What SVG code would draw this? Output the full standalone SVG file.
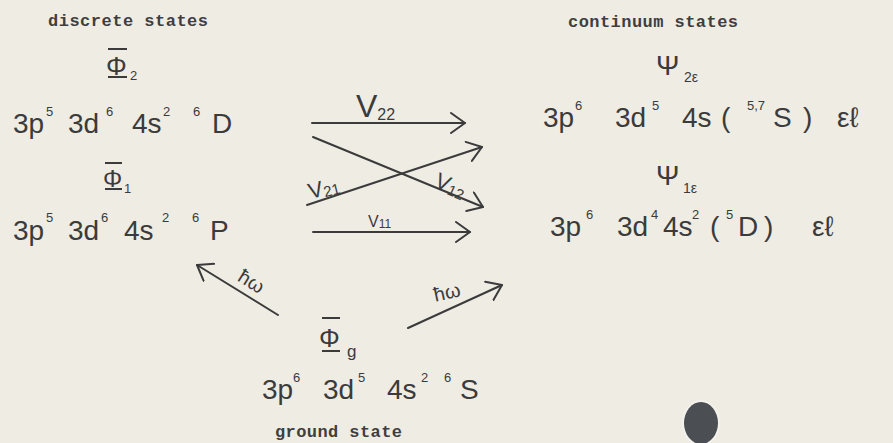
<svg xmlns="http://www.w3.org/2000/svg" width="893" height="443" viewBox="0 0 893 443">
<style>
.hw{font-family:"Liberation Sans","DejaVu Sans",sans-serif;fill:#3b3b3b}
.big{font-size:28px}
.sup{font-size:13px}
.tt{font-family:"Liberation Mono","DejaVu Sans Mono",monospace;font-weight:bold;font-size:17px;fill:#3f3f3f}
.ln{stroke:#3b3b3b;stroke-width:2;fill:none;stroke-linecap:round}
.bar{stroke:#3b3b3b;stroke-width:2}
</style>
<defs>
<marker id="ah" viewBox="0 0 16 22" refX="15" refY="11" markerWidth="16" markerHeight="22" markerUnits="userSpaceOnUse" orient="auto">
<path d="M1,1 L15,11 L1,21" fill="none" stroke="#3b3b3b" stroke-width="2" stroke-linecap="round" stroke-linejoin="round"/>
</marker>
</defs>
<rect x="0" y="0" width="893" height="443" fill="#efece4"/>

<text class="tt" x="48" y="26" textLength="160">discrete states</text>
<text class="tt" x="568" y="27" textLength="170">continuum states</text>
<text class="tt" x="275" y="437" textLength="127">ground state</text>

<g id="phi2">
<line class="bar" x1="108" y1="49" x2="127" y2="49"/>
<text class="hw" x="106" y="75" font-size="26">Φ</text>
<line class="bar" x1="108" y1="77" x2="127" y2="77"/>
<text class="hw sup" x="130" y="80">2</text>
<text class="hw big" y="133"><tspan x="13">3p</tspan><tspan class="sup" x="46" y="116">5</tspan><tspan x="68" y="133">3d</tspan><tspan class="sup" x="106" y="116">6</tspan><tspan x="132" y="133">4s</tspan><tspan class="sup" x="163" y="116">2</tspan><tspan class="sup" x="193" y="116">6</tspan><tspan x="212" y="133">D</tspan></text>
</g>

<g id="phi1">
<line class="bar" x1="105" y1="163" x2="122" y2="163"/>
<text class="hw" x="103" y="187" font-size="24">Φ</text>
<line class="bar" x1="105" y1="189" x2="122" y2="189"/>
<text class="hw sup" x="124" y="193">1</text>
<text class="hw big" y="240"><tspan x="13">3p</tspan><tspan class="sup" x="46" y="222">5</tspan><tspan x="68" y="240">3d</tspan><tspan class="sup" x="101" y="222">6</tspan><tspan x="124" y="240">4s</tspan><tspan class="sup" x="162" y="222">2</tspan><tspan class="sup" x="192" y="222">6</tspan><tspan x="210" y="240">P</tspan></text>
</g>

<g id="phig">
<line class="bar" x1="322" y1="318" x2="340" y2="318"/>
<text class="hw" x="319" y="347" font-size="26">Φ</text>
<line class="bar" x1="322" y1="351" x2="340" y2="351"/>
<text class="hw" x="347" y="357" font-size="17">g</text>
<text class="hw big" y="399"><tspan x="262">3p</tspan><tspan class="sup" x="293" y="382">6</tspan><tspan x="323" y="399">3d</tspan><tspan class="sup" x="358" y="382">5</tspan><tspan x="387" y="399">4s</tspan><tspan class="sup" x="421" y="382">2</tspan><tspan class="sup" x="444" y="382">6</tspan><tspan x="460" y="399">S</tspan></text>
</g>

<g id="psi2">
<text class="hw" x="656" y="75" font-size="28">Ψ</text>
<text class="hw" x="684" y="82" font-size="14">2ε</text>
<text class="hw big" y="127"><tspan x="543">3p</tspan><tspan class="sup" x="575" y="110">6</tspan><tspan x="615" y="127">3d</tspan><tspan class="sup" x="652" y="110">5</tspan><tspan x="682" y="127">4s</tspan><tspan x="721" y="127">(</tspan><tspan class="sup" x="747" y="110">5,7</tspan><tspan x="773" y="127">S</tspan><tspan x="803" y="127">)</tspan><tspan x="837" y="127">εℓ</tspan></text>
</g>

<g id="psi1">
<text class="hw" x="656" y="185" font-size="28">Ψ</text>
<text class="hw" x="683" y="193" font-size="14">1ε</text>
<text class="hw big" y="236"><tspan x="550">3p</tspan><tspan class="sup" x="586" y="219">6</tspan><tspan x="617" y="236">3d</tspan><tspan class="sup" x="651" y="219">4</tspan><tspan x="663" y="236">4s</tspan><tspan class="sup" x="692" y="219">2</tspan><tspan x="710" y="236">(</tspan><tspan class="sup" x="726" y="219">5</tspan><tspan x="738" y="236">D</tspan><tspan x="764" y="236">)</tspan><tspan x="812" y="236">εℓ</tspan></text>
</g>

<g id="connectors">
<path class="ln" d="M312,123 L465,123" marker-end="url(#ah)"/>
<path class="ln" d="M313,137 L483,207" marker-end="url(#ah)"/>
<path class="ln" d="M307,205 L482,147" marker-end="url(#ah)"/>
<path class="ln" d="M313,232 L470,232" marker-end="url(#ah)"/>
<path class="ln" d="M278,315 L197,265" marker-end="url(#ah)"/>
<path class="ln" d="M408,328 L502,285" marker-end="url(#ah)"/>
<text class="hw" x="356" y="117" font-size="32">V<tspan font-size="16" dy="3">22</tspan></text>
<text class="hw" x="308" y="195" font-size="22" transform="rotate(-14 325 188)">V<tspan font-size="15" dy="2">21</tspan></text>
<text class="hw" x="434" y="193" font-size="22" transform="rotate(24 450 188)">V<tspan font-size="15" dy="2">12</tspan></text>
<text class="hw" x="368" y="227" font-size="16">V<tspan font-size="12" dy="1">11</tspan></text>
<text class="hw" x="251" y="288" font-size="20" text-anchor="middle" transform="rotate(32 251 282)">ħω</text>
<text class="hw" x="447" y="299" font-size="20" text-anchor="middle" transform="rotate(-12 447 292)">ħω</text>
</g>

<ellipse cx="701" cy="423" rx="19" ry="23" fill="#f4f2ec"/>
<ellipse cx="701" cy="423" rx="17" ry="21" fill="#4b4e53"/>
</svg>
